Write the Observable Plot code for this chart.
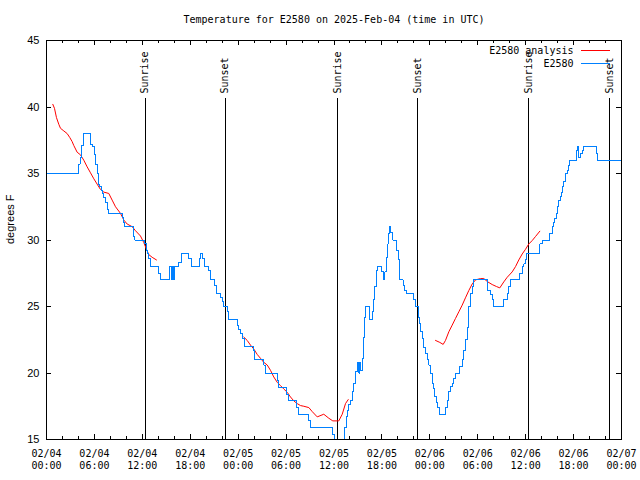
<!DOCTYPE html>
<html><head><meta charset="utf-8">
<script src="https://cdn.jsdelivr.net/npm/d3@7"></script>
<script src="https://cdn.jsdelivr.net/npm/@observablehq/plot@0.6"></script>
<style>body{margin:0;background:#fff} svg{display:block}</style>
</head><body><div id="chart"></div>
<script>
const title = "Temperature for E2580 on 2025-Feb-04 (time in UTC)";
const yLabel = "degrees F";
const tickHours = [0, 6, 12, 18, 24, 30, 36, 42, 48, 54, 60, 66, 72];
const tickLabels = ["02/04\n00:00","02/04\n06:00","02/04\n12:00","02/04\n18:00","02/05\n00:00","02/05\n06:00","02/05\n12:00","02/05\n18:00","02/06\n00:00","02/06\n06:00","02/06\n12:00","02/06\n18:00","02/07\n00:00"];
const yTicks = [15, 20, 25, 30, 35, 40, 45];
const eventHours = [12.35, 22.38, 36.42, 46.45, 60.37, 70.5];
const eventNames = ["Sunrise", "Sunset", "Sunrise", "Sunset", "Sunrise", "Sunset"];

// E2580 observations (hours since 02/04 00:00 UTC, deg F)
const blueHours = [0,4.04,4.2,4.35,4.6,5.55,5.8,6.0,6.17,6.35,6.55,6.67,6.85,7.0,7.18,7.39,7.6,7.8,9.48,9.68,9.8,10.86,11.06,12.31,12.52,12.69,12.81,13.02,14.06,14.27,15.44,15.61,15.74,15.86,16.03,16.57,16.87,17.82,18.12,19.16,19.28,19.57,19.82,20.32,20.54,21.07,21.25,21.79,22.0,22.2,22.63,22.83,23.88,24.08,24.29,24.58,24.79,25.88,26.08,27.21,27.42,28.89,29.09,30.05,30.34,31.3,31.52,32.85,33.06,35.85,36.06,37.32,37.57,37.73,37.85,38.07,38.28,38.48,38.69,38.9,39.1,39.23,39.32,39.53,39.66,39.82,39.95,40.48,40.78,40.9,41.11,41.28,41.49,41.95,42.24,42.36,42.57,42.74,42.86,42.99,43.07,43.36,43.79,44.12,44.24,44.66,44.83,45.04,46.0,46.2,46.55,46.71,46.83,47.04,47.25,47.46,47.67,47.87,48.08,48.29,48.41,48.58,48.83,49.0,49.25,49.96,50.17,50.38,50.59,50.8,51.0,51.21,51.75,52.05,52.26,52.46,52.68,52.88,53.09,53.3,53.5,55.26,55.6,55.81,56.01,57.26,57.69,57.89,58.1,59.27,59.57,59.77,59.98,60.1,61.77,62.07,63.02,63.32,63.52,63.65,63.82,64.02,64.15,64.36,64.48,64.65,64.78,64.99,65.2,65.4,65.53,66.33,66.45,66.65,66.87,67.08,67.28,68.83,68.95,72];
const blueTemps = [35,35.7,36.2,37.1,38,37.2,37.0,36.4,35.7,35,34.2,34.0,33.7,33.5,33.2,32.8,32.3,32.0,31.7,31.3,31.0,30.3,30.0,29.7,29.2,29.0,28.6,28.0,27.5,27.0,28.0,27.0,28.0,27.0,28.0,28.3,29.0,28.6,28.0,28.6,29.0,28.6,28.0,27.7,27.0,26.6,26.0,25.7,25.4,25.0,24.6,24.0,23.6,23.3,23.0,22.6,22.0,21.7,21.0,20.6,20.0,19.4,18.9,18.4,17.9,17.4,16.9,16.4,15.9,15.4,14.0,15.9,16.7,17.2,17.6,17.9,18.6,19.2,20.1,20.8,20.0,20.8,20.2,21.1,22.7,24.2,25.0,24.0,24.6,25.5,26.5,27.7,28.0,27.6,27.0,27.6,28.7,29.7,30.5,31.0,30.6,30.0,29.2,28.5,27.0,26.6,26.2,26.0,25.5,25.0,24.2,23.7,23.1,22.6,21.9,21.5,21.0,20.6,20.0,19.2,18.8,18.2,17.8,17.4,16.9,17.4,17.9,18.6,19.0,19.2,19.6,20.0,20.5,21.0,21.7,22.5,23.4,25.0,26.0,26.5,27.0,26.2,25.9,25.5,25.0,25.5,26.0,26.5,27.0,27.5,28.0,28.2,28.5,29.0,29.7,30.0,30.5,31.0,31.3,31.6,32.0,32.5,33.0,33.3,33.6,34.0,34.4,35.0,35.2,35.6,36.0,36.7,37.0,36.2,36.5,36.7,37.0,36.5,36.0,36.0];

// E2580 analysis (three separate runs, null = gap)
const redHours = [0.79,1.0,1.25,1.54,1.75,2.17,2.59,2.92,3.21,3.42,3.84,4.26,4.67,5.09,5.51,5.93,6.34,6.76,7.18,7.8,8.22,8.64,9.27,9.68,10.1,10.73,11.14,11.77,12.19,12.52,12.81,13.23,13.77,
  19,
  24.71,25.13,25.54,25.96,26.38,26.8,27.21,27.64,28.05,28.46,28.89,29.3,29.71,30.14,30.55,30.97,31.39,31.81,32.22,32.85,33.27,33.9,34.72,35.35,35.85,36.6,37.03,37.44,37.78,
  43,
  48.71,49.25,49.67,49.96,50.38,50.8,51.21,51.63,52.05,52.46,52.88,53.31,53.72,54.35,54.76,55.26,55.81,56.35,56.76,57.26,57.69,58.31,58.73,59.14,59.57,59.98,60.39,60.82,61.23,61.77];
const redTemps = [40.2,39.9,39.2,38.7,38.4,38.2,38.0,37.7,37.4,37.1,36.6,36.4,36.0,35.5,35.05,34.6,34.2,33.8,33.6,33.5,33.0,32.5,32.0,31.5,31.2,31.0,30.7,30.3,29.8,29.3,28.9,28.7,28.5,
  null,
  22.7,22.45,22.1,21.8,21.4,21.1,20.8,20.6,20.2,19.7,19.3,19.05,18.8,18.55,18.2,17.9,17.7,17.55,17.5,17.4,17.1,16.7,16.9,16.6,16.4,16.4,16.9,17.7,18.0,
  null,
  22.45,22.3,22.15,22.45,23.1,23.6,24.1,24.6,25.1,25.65,26.2,26.7,27.0,27.1,27.1,26.85,26.65,26.5,26.4,26.85,27.2,27.6,28.0,28.5,28.95,29.3,29.7,29.96,30.26,30.66];

const legendNames = ["E2580 analysis", "E2580"];
const legendColors = ["#ff0000", "#0080ff"];

const blue = blueHours.map((h, i) => ({h, t: blueTemps[i]}));
const red = redHours.map((h, i) => ({h, t: redTemps[i]}));
const events = eventHours.map((h, i) => ({h, name: eventNames[i]}));
const ticks = tickHours.map((h, i) => ({h, label: tickLabels[i]}));
const allTicks = d3.range(0, 73, 2);
const minorTicks = allTicks.filter(h => h % 6 !== 0);

const mono = "DejaVu Sans Mono";
const sans = "Liberation Sans";
const FH = 399, FW = 575;

const chart = Plot.plot({
  width: 640, height: 480,
  marginLeft: 46, marginRight: 19, marginTop: 40, marginBottom: 41,
  x: {domain: [0, 72], axis: null},
  y: {domain: [15, 45], axis: null},
  style: {background: "#fff", color: "#000"},
  marks: [
    // ticks (inward, mirrored)
    Plot.ruleX(tickHours, {insetTop: FH - 5, stroke: "#000", shapeRendering: "crispEdges"}),
    Plot.ruleX(tickHours, {insetBottom: FH - 5, stroke: "#000", shapeRendering: "crispEdges"}),
    Plot.ruleX(minorTicks, {insetTop: FH - 3, stroke: "#000", shapeRendering: "crispEdges"}),
    Plot.ruleX(minorTicks, {insetBottom: FH - 3, stroke: "#000", shapeRendering: "crispEdges"}),
    Plot.ruleY(yTicks, {insetRight: FW - 5, stroke: "#000", shapeRendering: "crispEdges"}),
    Plot.ruleY(yTicks, {insetLeft: FW - 5, stroke: "#000", shapeRendering: "crispEdges"}),
    // sunrise / sunset
    Plot.ruleX(events, {x: "h", insetTop: 58, stroke: "#000", shapeRendering: "crispEdges"}),
    Plot.text(events, {x: "h", text: "name", frameAnchor: "top", lineAnchor: "middle", dy: 53, rotate: -90, textAnchor: "start", fontFamily: mono, fontSize: 10, fill: "#000"}),
    // data
    Plot.line(red, {x: "h", y: "t", stroke: legendColors[0], strokeWidth: 1, clip: true}),
    Plot.line(blue, {x: "h", y: "t", stroke: legendColors[1], strokeWidth: 1, curve: "step-after", clip: true, shapeRendering: "crispEdges"}),
    Plot.frame({stroke: "#000", shapeRendering: "crispEdges"}),
    // axis labels
    Plot.text(ticks, {x: "h", text: "label", frameAnchor: "bottom", lineAnchor: "top", dy: 9, lineHeight: 1.2, fontFamily: mono, fontSize: 10, fill: "#000"}),
    Plot.text(yTicks, {y: d => d, text: d => String(d), frameAnchor: "left", textAnchor: "end", dx: -7, fontFamily: sans, fontSize: 11, fill: "#000"}),
    Plot.text([yLabel], {frameAnchor: "left", dx: -36, dy: 4, rotate: -90, fontFamily: sans, fontSize: 11, fill: "#000"}),
    Plot.text([title], {frameAnchor: "top", lineAnchor: "middle", dy: -21, fontFamily: mono, fontSize: 10, fill: "#000"}),
    // legend
    Plot.text(legendNames, {frameAnchor: "top-right", lineAnchor: "middle", textAnchor: "end", dx: -48, dy: 10, text: d => legendNames[0] === d ? d : null, fontFamily: mono, fontSize: 10, fill: "#000"}),
    Plot.text(legendNames, {frameAnchor: "top-right", lineAnchor: "middle", textAnchor: "end", dx: -48, dy: 23, text: d => legendNames[1] === d ? d : null, fontFamily: mono, fontSize: 10, fill: "#000"}),
    Plot.ruleY([45], {dy: 10, insetLeft: 535, insetRight: 11, stroke: legendColors[0], shapeRendering: "crispEdges"}),
    Plot.ruleY([45], {dy: 23, insetLeft: 535, insetRight: 11, stroke: legendColors[1], shapeRendering: "crispEdges"})
  ]
});
document.getElementById("chart").appendChild(chart);
</script>
</body></html>
